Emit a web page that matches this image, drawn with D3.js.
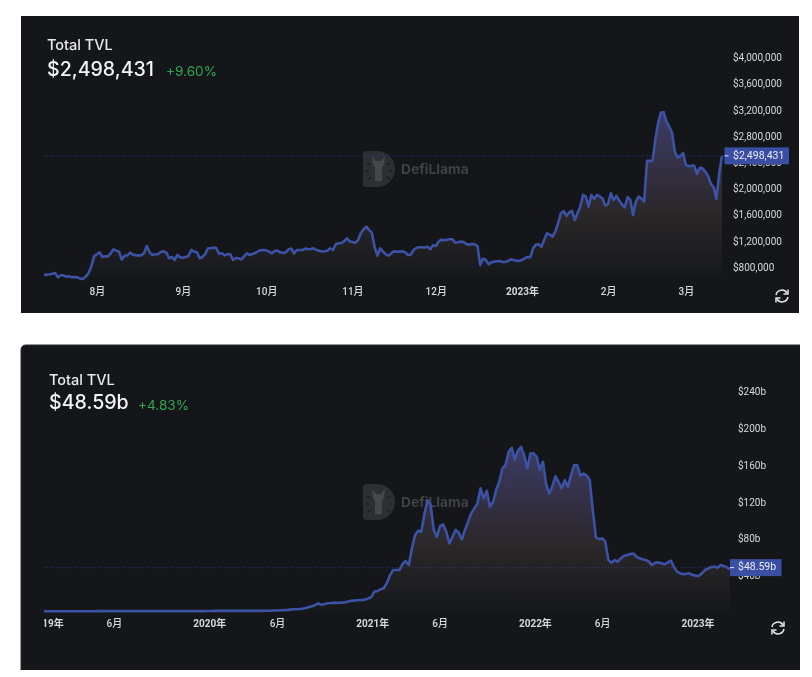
<!DOCTYPE html>
<html>
<head>
<meta charset="utf-8">
<script src="https://cdn.jsdelivr.net/npm/d3@7"></script>
<style>
  html, body { margin: 0; padding: 0; background: #fff; }
  svg { display: block; filter: blur(0.4px); }
  .title { fill: #e8e9ea; font: 500 14.5px Inter, sans-serif; }
  .value { fill: #f2f3f4; font: 500 19.6px Inter, sans-serif; }
  .change { fill: #2fa84f; font: 400 13.6px Inter, sans-serif; }
  .axis text { fill: #d6d8dc; font-family: Roboto, "Noto Sans CJK SC", sans-serif; font-size: 10px; }
  .axis.x-axis text { font-weight: 500; }
  .axis .year text { font-weight: 700; }
  .axis path { display: none; }
  .mark-text { fill: #3f4145; font: 700 13.8px Inter, sans-serif; }
  .price-text { fill: #e8eaf4; font: 400 10.5px Roboto, sans-serif; }
</style>
</head>
<body>
<svg id="chart" width="812" height="677"></svg>
<script>
// ─── Data: daily TVL for the last eight months, in thousands of dollars ───────
const recentStart = new Date(2022, 6, 13);
const recentTvl = [
  678, 683, 688, 698, 708, 642, 673, 673, 652, 657, 642, 647, 642, 622, 616, 652, 703, 805, 963, 994,
  1024, 953, 963, 963, 1009, 1070, 1050, 1035, 912, 973, 978, 1019, 989, 978, 978, 978, 1009, 1121, 1024, 984,
  994, 994, 1030, 1040, 1019, 933, 953, 907, 984, 948, 943, 953, 968, 1060, 1035, 1030, 933, 953, 994, 1086,
  1086, 1096, 1091, 999, 1009, 978, 994, 999, 907, 938, 933, 917, 963, 1009, 984, 999, 1014, 1040, 1055, 1060,
  1055, 1035, 1009, 1045, 1050, 1024, 1014, 1024, 1070, 1081, 1009, 1060, 1060, 1060, 1081, 1075, 1070, 1086, 1060, 1050,
  1035, 1040, 1050, 1086, 1060, 1147, 1162, 1162, 1193, 1239, 1193, 1183, 1172, 1208, 1315, 1376, 1417, 1366, 1320, 1101,
  973, 1086, 1035, 994, 973, 1009, 1040, 1035, 1035, 1040, 1024, 984, 989, 1060, 1091, 1101, 1101, 1096, 1111, 1070,
  1132, 1121, 1188, 1218, 1208, 1218, 1223, 1223, 1172, 1177, 1188, 1183, 1152, 1142, 1152, 1147, 1121, 831, 928, 907,
  841, 871, 882, 887, 892, 877, 877, 892, 917, 907, 897, 892, 907, 933, 953, 948, 1086, 1142, 1147, 1111,
  1213, 1315, 1295, 1264, 1341, 1468, 1621, 1652, 1580, 1636, 1657, 1519, 1621, 1723, 1902, 1876, 1723, 1902, 1840, 1902,
  1876, 1846, 1738, 1764, 1927, 1825, 1886, 1815, 1754, 1713, 1866, 1825, 1596, 1800, 1876, 1846, 1800, 2422, 2422, 2422,
  2743, 2998, 3161, 3166, 3024, 2947, 2855, 2565, 2473, 2498, 2539, 2361, 2340, 2345, 2350, 2223, 2315, 2310, 2254, 2192,
  2070, 2019, 1840, 2233, 2498.431
];
const recentTicks = [800, 1200, 1600, 2000, 2400, 2800, 3200, 3600, 4000];
const recentDates = [
  new Date(2022, 7, 1), new Date(2022, 8, 1), new Date(2022, 9, 1), new Date(2022, 10, 1),
  new Date(2022, 11, 1), new Date(2023, 0, 1), new Date(2023, 1, 1), new Date(2023, 2, 1)
];
const recentLabels = ["8月", "9月", "10月", "11月", "12月", "2023年", "2月", "3月"];

// ─── Data: weekly TVL since the start of 2019, in billions of dollars ─────────
const fullStart = new Date(2018, 11, 26);
const fullTvl = [
  1.2, 1.2, 1.2, 1.2, 1.2, 1.2, 1.2, 1.2, 1.2, 1.2, 1.2, 1.2, 1.2, 1.2, 1.2, 1.2, 1.2, 1.3, 1.3, 1.3,
  1.3, 1.3, 1.3, 1.3, 1.3, 1.3, 1.3, 1.3, 1.3, 1.3, 1.3, 1.3, 1.3, 1.3, 1.3, 1.3, 1.3, 1.3, 1.3, 1.3,
  1.3, 1.3, 1.3, 1.3, 1.3, 1.3, 1.3, 1.3, 1.3, 1.3, 1.3, 1.3, 1.4, 1.4, 1.4, 1.5, 1.5, 1.5, 1.5, 1.5,
  1.5, 1.5, 1.5, 1.5, 1.5, 1.5, 1.5, 1.5, 1.6, 1.6, 1.6, 1.7, 1.7, 1.8, 1.9, 2.0,
  2.2, 2.4, 2.5, 2.9, 3.3, 3.4, 3.6, 4.0, 4.7, 5.8, 6.5, 8.0, 9.8, 8.0, 9.1, 9.8, 10.1, 10.5, 10.1, 10.5,
  10.5, 11.2, 12.3, 12.7, 13.0, 13.4, 13.4, 13.8, 15.2, 16.7, 22.5, 23.2, 25.0, 26.4, 32.2, 40.6, 46.0, 46.0, 46.0, 52.5,
  55.8, 51.4, 69.6, 84.0, 88.8, 87.7, 106.9, 122.0, 116.7, 89.5, 82.0, 93.8, 95.6, 87.7, 75.0, 82.2, 89.5, 86.6, 79.3, 89.5,
  98.5, 107.6, 113.0, 118.5, 134.8, 123.9, 132.0, 114.9, 120.0, 133.0, 142.0, 156.5, 160.0, 174.6, 179.0, 166.0, 176.0, 180.0, 171.0, 156.5,
  172.8, 172.8, 169.0, 154.7, 163.8, 140.0, 129.0, 136.6, 148.0, 142.0, 134.8, 143.8, 136.6, 149.0, 160.0, 160.0, 149.0, 151.0, 149.0, 144.0,
  111.0, 81.5, 79.7, 80.4, 76.8, 56.9, 54.0, 56.9, 55.0, 58.7, 61.2, 62.3, 63.4, 64.0, 60.5, 58.7, 57.6, 56.9, 55.0, 51.4,
  54.0, 54.3, 53.3, 52.2, 54.0, 56.2, 49.6, 44.2, 42.4, 41.3, 42.0, 42.4, 40.6, 39.9, 39.5, 42.4, 46.0, 47.8, 49.3, 49.6,
  48.5, 51.4, 50.4, 48.9, 46.8
];
const fullTicks = [40, 80, 120, 160, 200, 240];
const fullDates = [
  new Date(2019, 0, 1), new Date(2019, 5, 1), new Date(2020, 0, 1), new Date(2020, 5, 1), new Date(2021, 0, 1),
  new Date(2021, 5, 1), new Date(2022, 0, 1), new Date(2022, 5, 1), new Date(2023, 0, 1)
];
const fullLabels = ["2019年", "6月", "2020年", "6月", "2021年", "6月", "2022年", "6月", "2023年"];

// ─── Panel configuration ──────────────────────────────────────────────────────
const COLORS = { panel: "#14161a", line: "#3b52a5", price: "#3a4fa3", priceLine: "#2f3b78" };

const panels = [
  {
    id: "recent",
    box: { x: 21, y: 16, w: 778, h: 297, rounded: false },
    title: { x: 47, y: 46 }, value: { x: 47, y: 71 }, change: { x: 166, y: 72 },
    valueText: "$2,498,431", changeText: "+9.60%",
    data: recentTvl, start: recentStart, stepDays: 1,
    xRange: [44, 722], yDomain: [800, 4000], yRange: [267, 57.6], base: 277,
    ticks: recentTicks, tickFormat: v => d3.format("$,")(v * 1000),
    tickDates: recentDates, tickLabels: recentLabels,
    axisX: 733, axisY: 290,
    price: 2498.431, priceText: "$2,498,431", priceBox: { x: 724.5, w: 64.5 },
    mark: { x: 363, y: 151 }, refresh: { x: 782, y: 296 }
  },
  {
    id: "full",
    box: { x: 21, y: 345, w: 779, h: 325, rounded: true },
    title: { x: 49, y: 381 }, value: { x: 49, y: 404 }, change: { x: 138, y: 406 },
    valueText: "$48.59b", changeText: "+4.83%",
    data: fullTvl, start: fullStart, stepDays: 7,
    xRange: [44, 730], yDomain: [0, 240], yRange: [612.3, 391.7], base: 612,
    ticks: fullTicks, tickFormat: v => `$${v}b`,
    tickDates: fullDates, tickLabels: fullLabels,
    axisX: 738, axisY: 622,
    price: 48.59, priceText: "$48.59b", priceBox: { x: 730, w: 51.5 },
    mark: { x: 363, y: 484 }, refresh: { x: 778, y: 628 }
  }
];

// ─── SVG setup ────────────────────────────────────────────────────────────────
const svg = d3.select("#chart");
const defs = svg.append("defs");

const areaGradient = defs.append("linearGradient")
  .attr("id", "area-gradient")
  .attr("x1", "0%").attr("x2", "0%")
  .attr("y1", "0%").attr("y2", "100%");
[
  [0, "#3d3c66"], [0.35, "#332f42"], [0.6, "#2b2729"], [0.85, "#1e1e21"], [1, "#15171b"]
].forEach(([offset, color]) => {
  areaGradient.append("stop").attr("offset", offset).attr("stop-color", color);
});

// ─── Watermark ────────────────────────────────────────────────────────────────
function drawWatermark(g, mark) {
  const logo = g.append("g").attr("transform", `translate(${mark.x},${mark.y})`);
  logo.append("path")
    .attr("d", "M3,0 H14 A18,18 0 0 1 14,36 H3 Q0,36 0,33 V3 Q0,0 3,0 Z")
    .attr("fill", "#2d2f33");
  logo.append("path")
    .attr("d", "M9,5 L13,10 H18 L22,5 L21,13 L19,17 V30 H12 V17 L10,13 Z")
    .attr("fill", "#45474b");
  logo.append("g").selectAll("line")
    .data([[4, 12, 7, 14], [3, 20, 6, 20], [5, 28, 8, 26], [27, 12, 24, 14], [29, 20, 26, 20], [27, 28, 24, 26]])
    .join("line")
    .attr("x1", d => d[0]).attr("y1", d => d[1])
    .attr("x2", d => d[2]).attr("y2", d => d[3])
    .attr("stroke", "#17181b").attr("stroke-width", 1.2);
  g.append("text")
    .attr("class", "mark-text")
    .attr("x", mark.x + 38)
    .attr("y", mark.y + 19)
    .attr("dominant-baseline", "middle")
    .text("DefiLlama");
}

// ─── Refresh icon ─────────────────────────────────────────────────────────────
function drawRefresh(g, pos) {
  const icon = g.append("g")
    .attr("transform", `translate(${pos.x},${pos.y})`)
    .attr("fill", "none")
    .attr("stroke", "#e4e5e7")
    .attr("stroke-width", 1.5);
  icon.append("path").attr("d", "M-6,-1 A6,6 0 0 1 5,-3");
  icon.append("path").attr("d", "M6,1 A6,6 0 0 1 -5,3");
  icon.append("path").attr("d", "M6,-6.5 V-2 H1.5");
  icon.append("path").attr("d", "M-6,6.5 V2 H-1.5");
}

// ─── Panel rendering ──────────────────────────────────────────────────────────
function drawPanel(p) {
  const g = svg.append("g").attr("class", `panel-${p.id}`);
  const { x: bx, y: by, w: bw, h: bh } = p.box;

  // Only the lower panel has a rounded top-left corner and a faint edge.
  const corner = p.box.rounded ? 5 : 0;
  const edge = `M${bx},${by + bh} V${by + corner} Q${bx},${by} ${bx + corner},${by} H${bx + bw}`;
  g.append("path")
    .attr("d", `${edge} V${by + bh} Z`)
    .attr("fill", COLORS.panel);
  if (p.box.rounded) {
    g.append("path")
      .attr("d", edge)
      .attr("fill", "none")
      .attr("stroke", "#2a2c30");
  }

  const dateAt = i => d3.timeDay.offset(p.start, i * p.stepDays);
  const x = d3.scaleTime()
    .domain([p.start, dateAt(p.data.length - 1)])
    .range(p.xRange);
  const y = d3.scaleLinear().domain(p.yDomain).range(p.yRange);

  drawWatermark(g, p.mark);

  // Area under the line, then the line itself.
  const area = d3.area()
    .x((d, i) => x(dateAt(i)))
    .y0(p.base)
    .y1(d => y(d));
  const line = d3.line()
    .x((d, i) => x(dateAt(i)))
    .y(d => y(d));

  g.append("path")
    .attr("d", area(p.data))
    .attr("fill", "url(#area-gradient)");

  // Dotted level of the current value.
  g.append("line")
    .attr("x1", p.xRange[0]).attr("x2", p.priceBox.x)
    .attr("y1", y(p.price)).attr("y2", y(p.price))
    .attr("stroke", COLORS.priceLine)
    .attr("stroke-dasharray", "1,2");

  g.append("path")
    .attr("d", line(p.data))
    .attr("fill", "none")
    .attr("stroke", COLORS.line)
    .attr("stroke-width", 2.6)
    .attr("stroke-linejoin", "round");

  // Time axis, clipped on the left like the first label in the reference.
  const clipId = `clip-${p.id}`;
  defs.append("clipPath").attr("id", clipId)
    .append("rect")
    .attr("x", p.xRange[0]).attr("y", p.axisY - 10)
    .attr("width", bx + bw - p.xRange[0]).attr("height", 30);

  const labelFor = new Map(p.tickDates.map((d, i) => [+d, p.tickLabels[i]]));
  g.append("g")
    .attr("class", "axis x-axis")
    .attr("clip-path", `url(#${clipId})`)
    .append("g")
    .attr("transform", `translate(0,${p.axisY - 2})`)
    .call(
      d3.axisBottom(x)
        .tickValues(p.tickDates)
        .tickSize(0)
        .tickPadding(0)
        .tickFormat(d => labelFor.get(+d))
    )
    .selectAll(".tick")
    .classed("year", d => labelFor.get(+d).endsWith("年"));

  // Value axis on the right.
  g.append("g")
    .attr("class", "axis y-axis")
    .attr("transform", `translate(${p.axisX},0)`)
    .call(
      d3.axisRight(y)
        .tickValues(p.ticks)
        .tickSize(0)
        .tickPadding(0)
        .tickFormat(p.tickFormat)
    );

  // Current value box covers the tick below it.
  const priceY = y(p.price);
  g.append("rect")
    .attr("x", p.priceBox.x).attr("y", priceY - 8.5)
    .attr("width", p.priceBox.w).attr("height", 17)
    .attr("fill", COLORS.price);
  g.append("line")
    .attr("x1", p.priceBox.x).attr("x2", p.priceBox.x + 4)
    .attr("y1", priceY).attr("y2", priceY)
    .attr("stroke", "#dfe2ee");
  g.append("text")
    .attr("class", "price-text")
    .attr("x", p.axisX)
    .attr("y", priceY)
    .attr("dominant-baseline", "middle")
    .text(p.priceText);

  // Header.
  g.append("text").attr("class", "title")
    .attr("x", p.title.x).attr("y", p.title.y)
    .attr("dominant-baseline", "middle").text("Total TVL");
  g.append("text").attr("class", "value")
    .attr("x", p.value.x).attr("y", p.value.y)
    .attr("dominant-baseline", "middle").text(p.valueText);
  g.append("text").attr("class", "change")
    .attr("x", p.change.x).attr("y", p.change.y)
    .attr("dominant-baseline", "middle").text(p.changeText);

  drawRefresh(g, p.refresh);
}

// ─── Entry point ──────────────────────────────────────────────────────────────
panels.forEach(drawPanel);
</script>
</body>
</html>
